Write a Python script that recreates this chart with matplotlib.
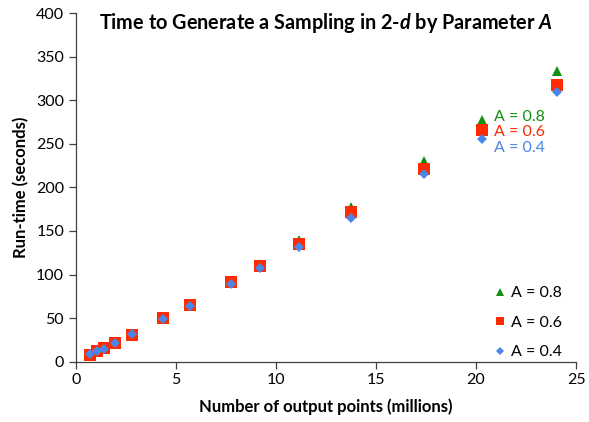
import matplotlib
matplotlib.use("Agg")
import matplotlib.pyplot as plt

plt.rcParams["font.family"] = ["Lato", "DejaVu Sans"]
plt.rcParams["mathtext.fontset"] = "custom"
plt.rcParams["mathtext.it"] = "Lato:italic:bold"
plt.rcParams["mathtext.rm"] = "Lato:bold"

# ---- data ----
points_millions = [0.7, 1.03, 1.4, 1.95, 2.8, 4.35, 5.7, 7.75, 9.2, 11.15, 13.75, 17.4, 20.3, 24.05]
runtime_a08 = [9, 12.5, 16, 22, 32, 50.5, 66, 92.5, 112, 140, 177, 230, 277, 334]
runtime_a06 = [8, 11.7, 15.7, 21.4, 31, 50, 65, 91.4, 110, 135, 172, 221, 266, 318]
runtime_a04 = [8.5, 12, 15, 21, 31.5, 49, 64, 89, 107, 131, 165, 215, 255, 309]
labels = ["A = 0.8", "A = 0.6", "A = 0.4"]

c_green = "#129012"
c_red = "#FF2A00"
c_blue = "#4A86E8"

fig = plt.figure(figsize=(5.89, 4.22), dpi=100)
ax = fig.add_axes([0.129, 0.143, 0.849, 0.826])

ax.plot(points_millions, runtime_a08, "^", color=c_green, ms=7.4, mew=0, label=labels[0], zorder=3)
ax.plot(points_millions, runtime_a06, "s", color=c_red, ms=8.4, mew=0, label=labels[1], zorder=4)
ax.plot(points_millions, runtime_a04, "D", color=c_blue, ms=5.2, mew=0, label=labels[2], zorder=5)

ax.set_xlim(0, 25)
ax.set_ylim(0, 400)
ax.set_xticks([0, 5, 10, 15, 20, 25])
ax.set_yticks(range(0, 401, 50))
for s in ["top", "right"]:
    ax.spines[s].set_visible(False)
for s in ["left", "bottom"]:
    ax.spines[s].set_color("#404040")
    ax.spines[s].set_linewidth(0.9)
ax.tick_params(direction="out", length=5, width=0.9, color="#404040", labelsize=11.5, labelcolor="black")

ax.set_xlabel("Number of output points (millions)", fontsize=12, fontweight="bold", labelpad=8)
ax.set_ylabel("Run-time (seconds)", fontsize=12, fontweight="bold", labelpad=5)

ax.text(0.5, 1.005, r"Time to Generate a Sampling in 2-$\mathit{d}$ by Parameter $\mathit{A}$",
        transform=ax.transAxes, ha="center", va="top", fontsize=14.3, fontweight="bold")

# inline labels near the last-but-one group
ax.text(20.9, 281, labels[0], color=c_green, fontsize=11.5, va="center")
ax.text(20.9, 263, labels[1], color=c_red, fontsize=11.5, va="center")
ax.text(20.9, 245, labels[2], color=c_blue, fontsize=11.5, va="center")

ax.legend(loc="lower right", frameon=False, fontsize=11.5, markerscale=0.75,
          labelspacing=0.95, handlelength=0.8, handletextpad=0.3,
          borderaxespad=0.0, bbox_to_anchor=(0.985, -0.011))

fig.savefig("out.png", dpi=100, facecolor="white")
